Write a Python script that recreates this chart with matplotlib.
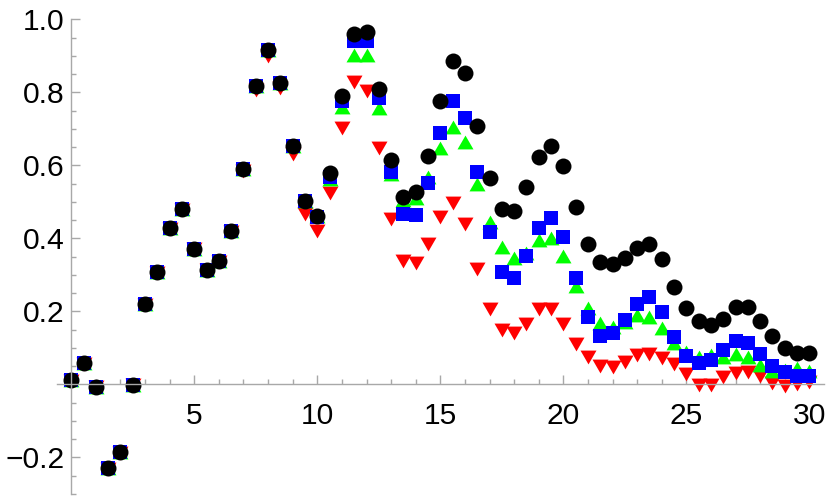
import numpy as np
import matplotlib
matplotlib.use("Agg")
import matplotlib.pyplot as plt

plt.rcParams['font.family'] = ['Liberation Sans', 'DejaVu Sans']

# sampling grid
x = np.arange(0, 30.5, 0.5)

black = [0.011, 0.058, -0.007, -0.230, -0.186, -0.002, 0.220, 0.308, 0.427, 0.480,
         0.372, 0.314, 0.338, 0.421, 0.590, 0.816, 0.915, 0.825, 0.653, 0.501,
         0.462, 0.578, 0.790, 0.960, 0.964, 0.810, 0.615, 0.514, 0.528, 0.626,
         0.777, 0.885, 0.852, 0.708, 0.565, 0.479, 0.476, 0.541, 0.623, 0.653,
         0.599, 0.487, 0.384, 0.334, 0.329, 0.345, 0.373, 0.385, 0.343, 0.267,
         0.210, 0.174, 0.163, 0.179, 0.211, 0.211, 0.174, 0.132, 0.099, 0.085,
         0.085]

blue = [0.011, 0.058, -0.007, -0.230, -0.186, -0.002, 0.220, 0.308, 0.427, 0.480,
        0.372, 0.314, 0.338, 0.421, 0.590, 0.816, 0.915, 0.825, 0.653, 0.501,
        0.458, 0.568, 0.776, 0.941, 0.941, 0.784, 0.582, 0.466, 0.464, 0.552,
        0.688, 0.776, 0.731, 0.581, 0.418, 0.308, 0.290, 0.351, 0.429, 0.456,
        0.404, 0.292, 0.185, 0.133, 0.141, 0.177, 0.220, 0.238, 0.199, 0.130,
        0.078, 0.059, 0.066, 0.094, 0.119, 0.112, 0.083, 0.050, 0.033, 0.024,
        0.024]

green = [0.011, 0.058, -0.007, -0.230, -0.186, -0.002, 0.220, 0.308, 0.427, 0.480,
         0.372, 0.314, 0.338, 0.421, 0.590, 0.816, 0.915, 0.825, 0.653, 0.501,
         0.462, 0.562, 0.759, 0.903, 0.903, 0.756, 0.575, 0.505, 0.510, 0.569,
         0.648, 0.704, 0.665, 0.549, 0.445, 0.375, 0.345, 0.359, 0.395, 0.402,
         0.351, 0.270, 0.210, 0.169, 0.158, 0.170, 0.190, 0.185, 0.153, 0.112,
         0.089, 0.076, 0.081, 0.074, 0.083, 0.074, 0.053, 0.037, 0.039, 0.044,
         0.037]

red = [0.010, 0.056, -0.008, -0.231, -0.187, -0.003, 0.218, 0.306, 0.425, 0.478,
       0.370, 0.312, 0.336, 0.418, 0.585, 0.805, 0.900, 0.812, 0.630, 0.467,
       0.420, 0.523, 0.703, 0.827, 0.803, 0.647, 0.452, 0.339, 0.332, 0.384,
       0.459, 0.497, 0.439, 0.317, 0.207, 0.149, 0.140, 0.165, 0.207, 0.207,
       0.165, 0.110, 0.074, 0.051, 0.047, 0.062, 0.080, 0.083, 0.073, 0.055,
       0.027, -0.002, -0.002, 0.021, 0.032, 0.035, 0.023, 0.004, -0.005, 0.001,
       0.007]

yticks = [-0.2, 0.2, 0.4, 0.6, 0.8, 1.0]
xticks = [5, 10, 15, 20, 25, 30]

# equilateral triangles (Mathematica style)
tri_up = [(-1, -0.866), (1, -0.866), (0, 0.866)]
tri_down = [(-1, 0.866), (1, 0.866), (0, -0.866)]

fig = plt.figure(figsize=(8.3, 4.98), dpi=100)
ax = fig.add_axes([0.0681, 0.0084, 0.9248, 0.9528])

kw = dict(linestyle='none', markeredgewidth=0, clip_on=False)
ax.plot(x, red, marker=tri_down, markersize=11.5, color=(1, 0, 0), **kw)
ax.plot(x, green, marker=tri_up, markersize=11.5, color=(0, 1, 0), **kw)
ax.plot(x, blue, marker='s', markersize=9.6, color=(0, 0, 1), **kw)
ax.plot(x, black, marker='o', markersize=11.5, color='black', **kw)

ax.set_xlim(-0.6, 30.6)
ax.set_ylim(-0.3, 1.0)

axis_col = '#a8a8a8'
for s in ['top', 'right']:
    ax.spines[s].set_visible(False)
ax.spines['left'].set_position(('data', 0))
ax.spines['bottom'].set_position(('data', 0))
for s in ['left', 'bottom']:
    ax.spines[s].set_color(axis_col)
    ax.spines[s].set_linewidth(1.0)

ax.set_xticks(xticks)
ax.set_xticklabels([str(t) for t in xticks])
ax.set_xticks(np.arange(1, 31), minor=True)
ax.set_yticks(yticks)
ax.set_yticklabels([f"{t:.1f}".replace('-', '\u2212') for t in yticks])
ax.set_yticks(np.arange(-0.3, 1.0001, 0.05), minor=True)

ax.tick_params(which='both', direction='in', color=axis_col, width=1.0,
               labelsize=21.6, labelcolor='black')
ax.tick_params(which='major', length=6.5)
ax.tick_params(which='minor', length=3.6)
ax.tick_params(axis='x', which='major', pad=13)
ax.tick_params(axis='y', which='major', pad=5)

fig.savefig('out.png', dpi=100)
